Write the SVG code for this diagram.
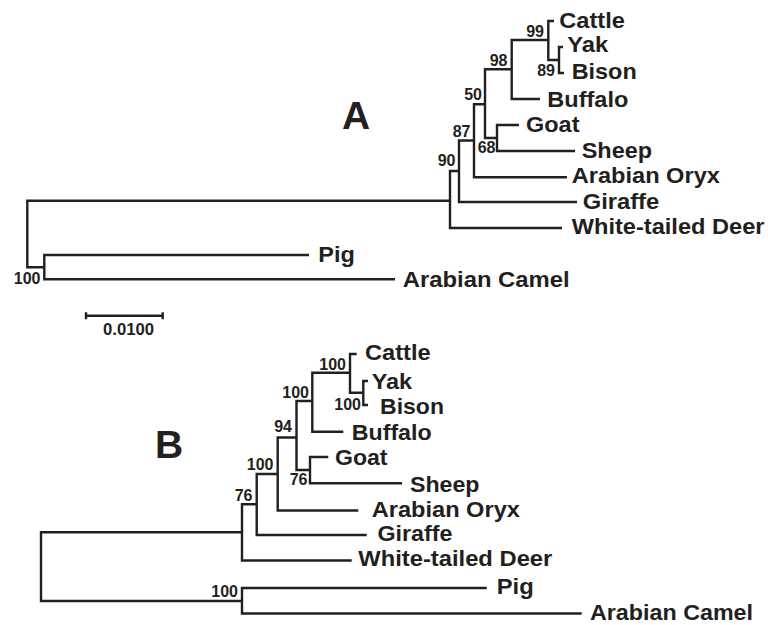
<svg xmlns="http://www.w3.org/2000/svg" width="768" height="625" viewBox="0 0 768 625">
<style>
.br{fill:none;stroke:#231f20;stroke-width:2.4;stroke-linejoin:miter;stroke-linecap:butt}
.tx{font-family:"Liberation Sans",Arial,sans-serif;font-weight:bold;fill:#231f20}
.leaf{font-size:22px}
.bs{font-size:16px;text-anchor:end}
.big{font-size:39px}
.sc{font-size:16px}
</style>
<rect width="768" height="625" fill="#ffffff"/>
<g id="connectors">
  <g id="treeA-branches">
    <path class="br" d="M450,200.7 H27.3 V267.3 H44.3"/>
    <path class="br" d="M459,171 H450 V228 H562"/>
    <path class="br" d="M474,140.5 H459 V202 H577"/>
    <path class="br" d="M485,104.3 H474 V177.3 H567"/>
    <path class="br" d="M511.7,69.3 H485 V138 H497"/>
    <path class="br" d="M519,125 H497 V151 H575"/>
    <path class="br" d="M548.3,40 H511.7 V99 H540"/>
    <path class="br" d="M554,21 H548.3 V60 H559"/>
    <path class="br" d="M563,47 H559 V73 H564"/>
    <path class="br" d="M309,255 H44.3 V279.3 H395"/>
  </g>
  <g id="scale-bar">
    <path class="br" d="M86,315.7 H162.7 M86,312.3 V319.2 M162.7,312.3 V319.2"/>
  </g>
  <g id="treeB-branches">
    <path class="br" d="M242,532.3 H41 V601 H242"/>
    <path class="br" d="M256.7,504.3 H242 V560.5 H351.7"/>
    <path class="br" d="M277.7,474 H256.7 V535 H366.7"/>
    <path class="br" d="M296.5,437.5 H277.7 V510.5 H358.3"/>
    <path class="br" d="M312.3,401 H296.5 V470 H310"/>
    <path class="br" d="M328.3,457 H310 V483.3 H402"/>
    <path class="br" d="M350,372.7 H312.3 V431.7 H343.3"/>
    <path class="br" d="M356.7,354 H350 V392.7 H363.3"/>
    <path class="br" d="M368,381 H363.3 V405 H368"/>
    <path class="br" d="M486.7,588 H242 V613.5 H581.7"/>
  </g>
</g>
<g id="panelA-label"><text class="tx big" x="342" y="129">A</text></g>
<g id="panelB-label"><text class="tx big" x="155" y="458">B</text></g>
<g id="scale-label"><text class="tx sc" x="103" y="335" textLength="51" lengthAdjust="spacingAndGlyphs">0.0100</text></g>

<g id="A-cattle"><text class="tx leaf" x="559.3" y="27.5" textLength="65.6" lengthAdjust="spacingAndGlyphs">Cattle</text></g>
<g id="A-yak"><text class="tx leaf" x="567.3" y="52.2" textLength="41" lengthAdjust="spacingAndGlyphs">Yak</text></g>
<g id="A-bison"><text class="tx leaf" x="571.7" y="79.2" textLength="65" lengthAdjust="spacingAndGlyphs">Bison</text></g>
<g id="A-buffalo"><text class="tx leaf" x="547.3" y="106.7" textLength="81" lengthAdjust="spacingAndGlyphs">Buffalo</text></g>
<g id="A-goat"><text class="tx leaf" x="526" y="131.9" textLength="53.5" lengthAdjust="spacingAndGlyphs">Goat</text></g>
<g id="A-sheep"><text class="tx leaf" x="581.7" y="157.5" textLength="70.5" lengthAdjust="spacingAndGlyphs">Sheep</text></g>
<g id="A-oryx"><text class="tx leaf" x="571.7" y="183.2" textLength="148.2" lengthAdjust="spacingAndGlyphs">Arabian Oryx</text></g>
<g id="A-giraffe"><text class="tx leaf" x="582.7" y="208.5" textLength="76.5" lengthAdjust="spacingAndGlyphs">Giraffe</text></g>
<g id="A-deer"><text class="tx leaf" x="571.7" y="233.7" textLength="192.8" lengthAdjust="spacingAndGlyphs">White-tailed Deer</text></g>
<g id="A-pig"><text class="tx leaf" x="318.3" y="262.2" textLength="36.5" lengthAdjust="spacingAndGlyphs">Pig</text></g>
<g id="A-camel"><text class="tx leaf" x="402.7" y="286.9" textLength="167" lengthAdjust="spacingAndGlyphs">Arabian Camel</text></g>

<g id="A-bootstrap">
  <text class="tx bs" x="544" y="37">99</text>
  <text class="tx bs" x="555" y="75.5">89</text>
  <text class="tx bs" x="507.5" y="66">98</text>
  <text class="tx bs" x="482" y="100">50</text>
  <text class="tx bs" x="470.5" y="137">87</text>
  <text class="tx bs" x="495.5" y="152.5">68</text>
  <text class="tx bs" x="455.5" y="166">90</text>
  <text class="tx bs" x="40.5" y="283.5">100</text>
</g>

<g id="B-cattle"><text class="tx leaf" x="365" y="360.2" textLength="65.6" lengthAdjust="spacingAndGlyphs">Cattle</text></g>
<g id="B-yak"><text class="tx leaf" x="371.7" y="388.7" textLength="40.5" lengthAdjust="spacingAndGlyphs">Yak</text></g>
<g id="B-bison"><text class="tx leaf" x="380" y="413.7" textLength="64" lengthAdjust="spacingAndGlyphs">Bison</text></g>
<g id="B-buffalo"><text class="tx leaf" x="351.7" y="439.7" textLength="80" lengthAdjust="spacingAndGlyphs">Buffalo</text></g>
<g id="B-goat"><text class="tx leaf" x="335" y="465.2" textLength="52.5" lengthAdjust="spacingAndGlyphs">Goat</text></g>
<g id="B-sheep"><text class="tx leaf" x="410" y="492.2" textLength="69.5" lengthAdjust="spacingAndGlyphs">Sheep</text></g>
<g id="B-oryx"><text class="tx leaf" x="371.7" y="516.7" textLength="148.2" lengthAdjust="spacingAndGlyphs">Arabian Oryx</text></g>
<g id="B-giraffe"><text class="tx leaf" x="377.5" y="541.2" textLength="75" lengthAdjust="spacingAndGlyphs">Giraffe</text></g>
<g id="B-deer"><text class="tx leaf" x="358.3" y="566.2" textLength="194" lengthAdjust="spacingAndGlyphs">White-tailed Deer</text></g>
<g id="B-pig"><text class="tx leaf" x="496.7" y="594.2" textLength="37" lengthAdjust="spacingAndGlyphs">Pig</text></g>
<g id="B-camel"><text class="tx leaf" x="590" y="619.7" textLength="163" lengthAdjust="spacingAndGlyphs">Arabian Camel</text></g>

<g id="B-bootstrap">
  <text class="tx bs" x="346" y="370">100</text>
  <text class="tx bs" x="361" y="410">100</text>
  <text class="tx bs" x="309" y="398">100</text>
  <text class="tx bs" x="292" y="432">94</text>
  <text class="tx bs" x="273.5" y="469.5">100</text>
  <text class="tx bs" x="307.5" y="485">76</text>
  <text class="tx bs" x="252.5" y="500.5">76</text>
  <text class="tx bs" x="238" y="597">100</text>
</g>
</svg>
